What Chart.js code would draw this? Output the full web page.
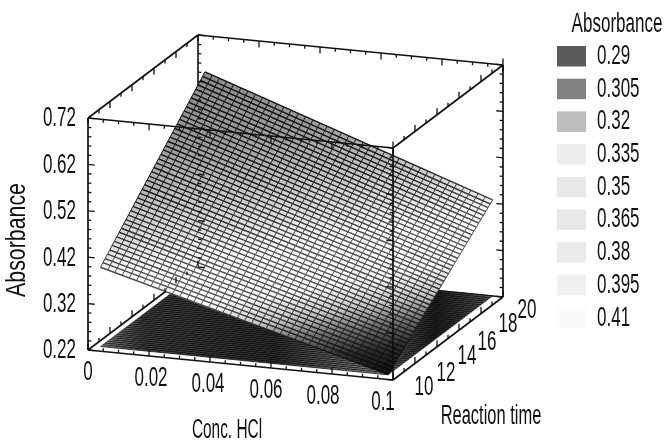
<!DOCTYPE html>
<html lang="en">
<head>
<meta charset="UTF-8">
<title>Absorbance surface</title>
<script src="https://cdn.jsdelivr.net/npm/chart.js"></script>
<style>
    body { margin: 0; background: #fff; }
    #wrap { width: 665px; height: 442px; }
    canvas { filter: blur(0.45px); }
</style>
</head>
<body>
<div id="wrap"><canvas id="surface" width="665" height="442"></canvas></div>
<script>
    // mesh positions
    const concValues = [0.0023, 0.0047, 0.0070, 0.0094, 0.0117, 0.0141, 0.0164, 0.0188, 0.0212, 0.0235, 0.0259, 0.0282, 0.0306, 0.0329, 0.0353, 0.0377, 0.0400, 0.0424, 0.0447, 0.0471, 0.0495, 0.0518, 0.0542, 0.0565, 0.0589, 0.0612, 0.0636, 0.0660, 0.0683, 0.0707, 0.0730, 0.0754, 0.0777, 0.0801, 0.0825, 0.0848, 0.0872, 0.0895, 0.0919, 0.0942, 0.0966];
    const timeValues = [10.5, 10.71, 10.92, 11.13, 11.34, 11.56, 11.77, 11.98, 12.19, 12.40, 12.61, 12.82, 13.03, 13.24, 13.46, 13.67, 13.88, 14.09, 14.30, 14.51, 14.72, 14.93, 15.14, 15.36, 15.57, 15.78, 15.99, 16.20, 16.41, 16.62, 16.83, 17.04, 17.26, 17.47, 17.68, 17.89, 18.10, 18.31, 18.52, 18.73, 18.94, 19.16, 19.37, 19.58, 19.79, 20];

    // absorbance at both ends of each mesh line
    const rowAbsLowConc = [0.391, 0.397, 0.402, 0.408, 0.413, 0.419, 0.424, 0.430, 0.436, 0.441, 0.447, 0.452, 0.458, 0.464, 0.469, 0.475, 0.480, 0.486, 0.491, 0.497, 0.503, 0.508, 0.514, 0.519, 0.525, 0.530, 0.536, 0.542, 0.547, 0.553, 0.558, 0.564, 0.569, 0.575, 0.581, 0.586, 0.592, 0.597, 0.603, 0.609, 0.614, 0.620, 0.625, 0.631, 0.636, 0.642];
    const rowAbsHighConc = [0.221, 0.226, 0.230, 0.235, 0.239, 0.244, 0.248, 0.253, 0.258, 0.262, 0.267, 0.271, 0.276, 0.281, 0.285, 0.290, 0.294, 0.299, 0.303, 0.308, 0.313, 0.317, 0.322, 0.326, 0.331, 0.335, 0.340, 0.345, 0.349, 0.354, 0.358, 0.363, 0.368, 0.372, 0.377, 0.381, 0.386, 0.390, 0.395, 0.400, 0.404, 0.409, 0.413, 0.418, 0.422, 0.427];
    const colAbsLowTime = [0.391, 0.387, 0.383, 0.378, 0.374, 0.370, 0.366, 0.361, 0.357, 0.353, 0.349, 0.344, 0.340, 0.336, 0.332, 0.327, 0.323, 0.319, 0.315, 0.310, 0.306, 0.302, 0.298, 0.293, 0.289, 0.285, 0.281, 0.276, 0.272, 0.268, 0.264, 0.259, 0.255, 0.251, 0.247, 0.242, 0.238, 0.234, 0.230, 0.225, 0.221];
    const colAbsHighTime = [0.642, 0.637, 0.631, 0.626, 0.621, 0.615, 0.610, 0.604, 0.599, 0.594, 0.588, 0.583, 0.578, 0.572, 0.567, 0.561, 0.556, 0.551, 0.545, 0.540, 0.535, 0.529, 0.524, 0.518, 0.513, 0.508, 0.502, 0.497, 0.491, 0.486, 0.481, 0.475, 0.470, 0.465, 0.459, 0.454, 0.448, 0.443, 0.438, 0.432, 0.427];

    // axes
    const concTicks = [0, 0.02, 0.04, 0.06, 0.08, 0.1];
    const concTickLabels = ['0', '0.02', '0.04', '0.06', '0.08', '0.1'];
    const concMinor = [0.005, 0.01, 0.015, 0.025, 0.03, 0.035, 0.045, 0.05, 0.055, 0.065, 0.07, 0.075, 0.085, 0.09, 0.095];
    const timeTicks = [10, 12, 14, 16, 18, 20];
    const timeTickLabels = ['10', '12', '14', '16', '18', '20'];
    const timeMinor = [11, 13, 15, 17, 19];
    const absTicks = [0.22, 0.32, 0.42, 0.52, 0.62, 0.72];
    const absTickLabels = ['0.22', '0.32', '0.42', '0.52', '0.62', '0.72'];
    const absMinor = [0.24, 0.26, 0.28, 0.30, 0.34, 0.36, 0.38, 0.40, 0.44, 0.46, 0.48, 0.50, 0.54, 0.56, 0.58, 0.60, 0.64, 0.66, 0.68, 0.70];

    // legend
    const legendLabels = ['0.29', '0.305', '0.32', '0.335', '0.35', '0.365', '0.38', '0.395', '0.41'];
    const legendGrays = [90, 130, 190, 238, 232, 232, 235, 240, 250];

    // 3D box projected flat, px per full axis
    const ORIGIN = { x: 88, y: 350 };
    const CONC_AXIS = { x: 305, y: 30 };
    const TIME_AXIS = { x: 110, y: -83 };
    const ABS_AXIS_H = 232;

    function project(conc, time, abs) {
        const u = conc / 0.1;
        const v = (time - 10) / 10;
        const w = (abs - 0.22) / 0.5;
        return {
            x: ORIGIN.x + CONC_AXIS.x * u + TIME_AXIS.x * v,
            y: ORIGIN.y + CONC_AXIS.y * u + TIME_AXIS.y * v - ABS_AXIS_H * w
        };
    }

    function gap() { return { x: 0, y: null }; }

    function segments(list) {
        const pts = [];
        list.forEach(function (s) { pts.push(s[0], s[1], gap()); });
        return pts;
    }

    function lineSet(data, color, width) {
        return { data: data, showLine: true, borderColor: color, borderWidth: width, pointRadius: 0, fill: false, tension: 0 };
    }

    function sheetCorners(floor) {
        const last = timeValues.length - 1;
        const lastC = concValues.length - 1;
        const c0 = concValues[0], c1 = concValues[lastC], t0 = timeValues[0], t1 = timeValues[last];
        const a = function (v) { return floor ? 0.22 : v; };
        return [
            project(c0, t0, a(rowAbsLowConc[0])),
            project(c0, t1, a(rowAbsLowConc[last])),
            project(c1, t1, a(rowAbsHighConc[last])),
            project(c1, t0, a(rowAbsHighConc[0])),
            project(c0, t0, a(rowAbsLowConc[0]))
        ];
    }

    function rowLines(floor) {
        return segments(timeValues.map(function (t, j) {
            return [
                project(concValues[0], t, floor ? 0.22 : rowAbsLowConc[j]),
                project(concValues[concValues.length - 1], t, floor ? 0.22 : rowAbsHighConc[j])
            ];
        }));
    }

    function colLines(floor) {
        return segments(concValues.map(function (c, i) {
            return [
                project(c, timeValues[0], floor ? 0.22 : colAbsLowTime[i]),
                project(c, timeValues[timeValues.length - 1], floor ? 0.22 : colAbsHighTime[i])
            ];
        }));
    }

    function gray(v) { return 'rgb(' + v + ',' + v + ',' + v + ')'; }

    // band of shades across the surface, dark at both ends, white round 0.4
    const SHADE_STOPS = [[0, 140], [0.21, 155], [0.35, 190], [0.48, 225], [0.56, 252], [0.70, 252], [0.78, 200], [0.85, 110], [0.92, 45], [1, 15]];
    const MESH_STOPS = [[0, 15], [0.35, 25], [0.5, 60], [0.6, 85], [0.7, 80], [0.8, 40], [1, 5]];
    // floor shades from low to high conc
    const FLOOR_STOPS = [[0, 150], [0.12, 70], [0.45, 50], [0.68, 135], [0.85, 35], [0.93, 70], [1, 100]];

    // gradient running across the surface, from the high corner to the low corner
    function acrossSurface(chart, stops) {
        const cs = sheetCorners(false).map(function (p) {
            return { x: chart.scales.x.getPixelForValue(p.x), y: chart.scales.y.getPixelForValue(p.y) };
        });
        const A = cs[0], B = cs[1], C = cs[2], D = cs[3];
        const len = Math.hypot(C.x - A.x, C.y - A.y);
        const n = { x: -(C.y - A.y) / len, y: (C.x - A.x) / len };
        const sB = (B.x - A.x) * n.x + (B.y - A.y) * n.y;
        const sD = (D.x - A.x) * n.x + (D.y - A.y) * n.y;
        const g = chart.ctx.createLinearGradient(A.x + n.x * sB, A.y + n.y * sB, A.x + n.x * sD, A.y + n.y * sD);
        stops.forEach(function (s) { g.addColorStop(s[0], gray(s[1])); });
        return g;
    }

    function surfaceShade(context) {
        return context.chart.chartArea ? acrossSurface(context.chart, SHADE_STOPS) : '#ccc';
    }

    function meshShade(context) {
        return context.chart.chartArea ? acrossSurface(context.chart, MESH_STOPS) : '#222';
    }

    function floorShade(context) {
        const chart = context.chart;
        if (!chart.chartArea) return '#666';
        const g = chart.ctx.createLinearGradient(95, 0, 495, 0);
        FLOOR_STOPS.forEach(function (s) { g.addColorStop(s[0], gray(s[1])); });
        return g;
    }

    function tickSegs() {
        const segs = [];
        const BOT = 0.22, TOP = 0.72;
        function conc(list, len) {
            list.forEach(function (c) {
                segs.push([project(c, 10, BOT), project(c, 10, BOT + len)]);
                segs.push([project(c, 20, TOP), project(c, 20, TOP - len)]);
                segs.push([project(c, 10, TOP), project(c, 10, TOP - len)]);
            });
        }
        function time(list, len) {
            list.forEach(function (t) {
                segs.push([project(0, t, TOP), project(0, t, TOP - len)]);
                segs.push([project(0.1, t, TOP), project(0.1, t, TOP + len)]);
                segs.push([project(0, t, BOT), project(0, t, BOT + len)]);
                segs.push([project(0.1, t, BOT), project(0.1, t, BOT + len)]);
            });
        }
        function abs(list, len) {
            list.forEach(function (a) {
                segs.push([project(0, 10, a), project(len, 10, a)]);
                segs.push([project(0, 20, a), project(len, 20, a)]);
                segs.push([project(0.1, 10, a), project(0.1 - len, 10, a)]);
                segs.push([project(0.1, 20, a), project(0.1 - len, 20, a)]);
            });
        }
        conc(concTicks, 0.014); conc(concMinor, 0.007);
        time(timeTicks, 0.014); time(timeMinor, 0.008);
        abs(absTicks, 0.0022); abs(absMinor, 0.0011);
        return segs;
    }

    const LOW = 0.22, HIGH = 0.72;
    const backEdges = segments([
        [project(0, 20, LOW), project(0, 20, HIGH)],
        [project(0, 10, LOW), project(0, 20, LOW)],
        [project(0, 20, LOW), project(0.1, 20, LOW)]
    ]);
    const frontEdges = segments([
        [project(0, 10, LOW), project(0, 10, HIGH)],
        [project(0.1, 10, LOW), project(0.1, 10, HIGH)],
        [project(0.1, 20, LOW), project(0.1, 20, HIGH)],
        [project(0, 10, HIGH), project(0.1, 10, HIGH)],
        [project(0, 20, HIGH), project(0.1, 20, HIGH)],
        [project(0, 10, HIGH), project(0, 20, HIGH)],
        [project(0.1, 10, HIGH), project(0.1, 20, HIGH)],
        [project(0, 10, LOW), project(0.1, 10, LOW)],
        [project(0.1, 10, LOW), project(0.1, 20, LOW)]
    ]);

    // painter order, first = furthest back
    const layers = [
        lineSet(backEdges, '#111', 1.6),
        { data: sheetCorners(true), showLine: true, borderWidth: 0, pointRadius: 0, fill: 'shape', backgroundColor: floorShade, tension: 0 },
        lineSet(rowLines(true), 'rgba(5,5,5,0.72)', 1),
        lineSet(colLines(true), 'rgba(5,5,5,0.5)', 0.8),
        { data: sheetCorners(false), showLine: true, borderWidth: 0, pointRadius: 0, fill: 'shape', backgroundColor: surfaceShade, tension: 0 },
        lineSet(rowLines(false), meshShade, 1.45),
        lineSet(colLines(false), meshShade, 1),
        lineSet(frontEdges, '#111', 1.7),
        lineSet(segments(tickSegs()), '#111', 1.3)
    ];

    // narrow letters like the original, real text squeezed sideways
    function label(ctx, text, x, y, align, squeeze, rotate) {
        ctx.save();
        ctx.translate(x, y);
        if (rotate) ctx.rotate(-Math.PI / 2);
        ctx.scale(squeeze, 1);
        ctx.textAlign = align;
        ctx.textBaseline = 'middle';
        ctx.fillText(text, 0, 0);
        ctx.restore();
    }

    const CONC_LABEL_SHIFT = [0, 2, -2, -5, -9, -10];
    const TIME_LABEL_SHIFT = [[31, 8], [31, 10], [30, 10], [28, 12], [27, 11], [24, 14]];

    const annotations = {
        id: 'annotations',
        afterDraw: function (chart) {
            const ctx = chart.ctx;
            const sx = chart.scales.x, sy = chart.scales.y;
            ctx.save();
            ctx.fillStyle = '#101010';
            ctx.font = '27px "Liberation Sans"';
            absTicks.forEach(function (a, i) {
                const p = project(0, 10, a);
                label(ctx, absTickLabels[i], sx.getPixelForValue(p.x) - 12, sy.getPixelForValue(p.y) + 1, 'right', 0.63);
            });
            concTicks.forEach(function (c, i) {
                const p = project(c, 10, 0.22);
                label(ctx, concTickLabels[i], sx.getPixelForValue(p.x) + CONC_LABEL_SHIFT[i], sy.getPixelForValue(p.y) + 23, 'center', 0.63);
            });
            timeTicks.forEach(function (t, i) {
                const p = project(0.1, t, 0.22);
                label(ctx, timeTickLabels[i], sx.getPixelForValue(p.x) + TIME_LABEL_SHIFT[i][0], sy.getPixelForValue(p.y) + TIME_LABEL_SHIFT[i][1], 'center', 0.63);
            });
            label(ctx, 'Absorbance', 18, 240, 'center', 0.79, true);
            label(ctx, 'Conc. HCl', 227, 431, 'center', 0.57);
            label(ctx, 'Reaction time', 491, 417, 'center', 0.61);
            label(ctx, 'Absorbance', 617, 25, 'center', 0.63);

            legendLabels.forEach(function (t, i) {
                const y = 46 + i * 32.7;
                ctx.fillStyle = gray(legendGrays[i]);
                ctx.fillRect(557, y, 29, 20.5);
                ctx.fillStyle = '#101010';
                label(ctx, t, 597, y + 10.5, 'left', 0.63);
            });
            ctx.restore();
        }
    };

    new Chart(document.getElementById('surface'), {
        type: 'scatter',
        data: { datasets: layers.slice().reverse() },
        options: {
            responsive: false,
            animation: false,
            events: [],
            layout: { padding: 0 },
            clip: false,
            plugins: { legend: { display: false }, tooltip: { enabled: false } },
            scales: {
                x: { type: 'linear', min: 0, max: 665, display: false },
                y: { type: 'linear', min: 0, max: 442, reverse: true, display: false }
            }
        },
        plugins: [annotations]
    });
</script>
</body>
</html>
